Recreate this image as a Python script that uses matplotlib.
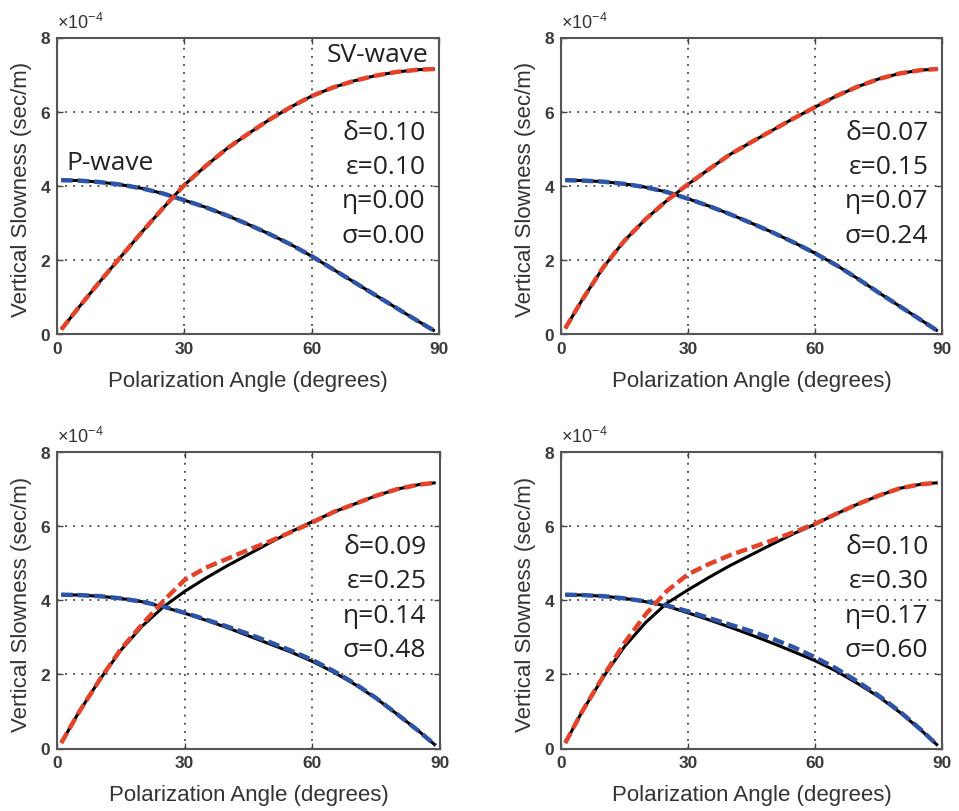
import matplotlib
matplotlib.use("Agg")
import matplotlib.pyplot as plt

plt.rcParams['font.family'] = ['Liberation Sans', 'DejaVu Sans']
plt.rcParams['mathtext.fontset'] = 'custom'
plt.rcParams['mathtext.rm'] = 'Liberation Sans'

# polarization angle (degrees)
angles = [1, 5, 10, 15, 20, 25, 30, 35, 40, 45, 50, 55, 60, 65, 70, 75, 80, 85, 89]

# panel 1 (delta=0.10, eps=0.10)
p1_p_exact = [4.15, 4.14, 4.10, 4.03, 3.93, 3.79, 3.61, 3.42, 3.20, 2.96, 2.70, 2.42, 2.10, 1.75, 1.40, 1.05, 0.70, 0.35, 0.08]
p1_p_approx = [4.15, 4.14, 4.10, 4.03, 3.93, 3.79, 3.61, 3.42, 3.20, 2.96, 2.70, 2.42, 2.10, 1.75, 1.40, 1.05, 0.70, 0.35, 0.08]
p1_sv_exact = [0.12, 0.70, 1.40, 2.08, 2.75, 3.40, 4.02, 4.53, 5.00, 5.40, 5.78, 6.12, 6.42, 6.65, 6.83, 6.97, 7.07, 7.13, 7.15]
p1_sv_approx = [0.12, 0.70, 1.40, 2.08, 2.75, 3.40, 4.02, 4.53, 5.00, 5.40, 5.78, 6.12, 6.42, 6.65, 6.83, 6.97, 7.07, 7.13, 7.15]

# panel 2 (delta=0.07, eps=0.15)
p2_p_exact = [4.15, 4.14, 4.11, 4.05, 3.96, 3.83, 3.65, 3.45, 3.23, 2.99, 2.74, 2.47, 2.18, 1.86, 1.50, 1.12, 0.75, 0.38, 0.08]
p2_p_approx = [4.15, 4.14, 4.11, 4.05, 3.96, 3.83, 3.65, 3.45, 3.23, 2.99, 2.74, 2.47, 2.18, 1.86, 1.50, 1.12, 0.75, 0.38, 0.08]
p2_sv_exact = [0.15, 0.92, 1.80, 2.52, 3.10, 3.60, 4.04, 4.45, 4.85, 5.18, 5.50, 5.82, 6.12, 6.42, 6.67, 6.88, 7.03, 7.12, 7.15]
p2_sv_approx = [0.15, 0.92, 1.80, 2.52, 3.10, 3.60, 4.04, 4.45, 4.85, 5.18, 5.50, 5.82, 6.12, 6.42, 6.67, 6.88, 7.03, 7.12, 7.15]

# panel 3 (delta=0.09, eps=0.25)
p3_p_exact = [4.15, 4.14, 4.11, 4.05, 3.96, 3.82, 3.65, 3.46, 3.26, 3.04, 2.82, 2.60, 2.35, 2.06, 1.73, 1.35, 0.92, 0.47, 0.08]
p3_p_approx = [4.15, 4.14, 4.11, 4.05, 3.96, 3.83, 3.66, 3.48, 3.29, 3.09, 2.87, 2.64, 2.39, 2.09, 1.75, 1.36, 0.92, 0.47, 0.08]
p3_sv_exact = [0.15, 0.95, 1.85, 2.65, 3.30, 3.82, 4.24, 4.60, 4.93, 5.24, 5.55, 5.85, 6.12, 6.38, 6.60, 6.82, 7.00, 7.12, 7.17]
p3_sv_approx = [0.15, 0.95, 1.85, 2.68, 3.35, 3.98, 4.55, 4.88, 5.12, 5.36, 5.59, 5.84, 6.10, 6.38, 6.60, 6.82, 7.00, 7.12, 7.17]

# panel 4 (delta=0.10, eps=0.30)
p4_p_exact = [4.15, 4.14, 4.11, 4.05, 3.96, 3.84, 3.66, 3.47, 3.27, 3.06, 2.84, 2.61, 2.37, 2.09, 1.76, 1.40, 0.98, 0.50, 0.08]
p4_p_approx = [4.15, 4.14, 4.11, 4.05, 3.97, 3.86, 3.70, 3.52, 3.34, 3.16, 2.96, 2.73, 2.46, 2.16, 1.81, 1.43, 1.00, 0.51, 0.08]
p4_sv_exact = [0.15, 1.00, 1.93, 2.75, 3.40, 3.92, 4.28, 4.62, 4.94, 5.23, 5.52, 5.80, 6.05, 6.33, 6.59, 6.82, 7.02, 7.13, 7.17]
p4_sv_approx = [0.15, 1.00, 1.95, 2.85, 3.62, 4.25, 4.70, 4.98, 5.22, 5.42, 5.62, 5.84, 6.06, 6.33, 6.59, 6.82, 7.02, 7.13, 7.17]

param_labels = [
    ["δ=0.10", "ε=0.10", "η=0.00", "σ=0.00"],
    ["δ=0.07", "ε=0.15", "η=0.07", "σ=0.24"],
    ["δ=0.09", "ε=0.25", "η=0.14", "σ=0.48"],
    ["δ=0.10", "ε=0.30", "η=0.17", "σ=0.60"],
]

x_ticks = [0, 30, 60, 90]
y_ticks = [0, 2, 4, 6, 8]
x_label = "Polarization Angle (degrees)"
y_label = "Vertical Slowness (sec/m)"

panels = [
    (p1_p_exact, p1_p_approx, p1_sv_exact, p1_sv_approx),
    (p2_p_exact, p2_p_approx, p2_sv_exact, p2_sv_approx),
    (p3_p_exact, p3_p_approx, p3_sv_exact, p3_sv_approx),
    (p4_p_exact, p4_p_approx, p4_sv_exact, p4_sv_approx),
]

W, H = 959, 812
fig = plt.figure(figsize=(W / 100, H / 100), dpi=100)
boxes = [
    (57, 38.5, 439, 335),
    (561, 38.5, 942, 335),
    (57, 453, 440, 749.5),
    (561, 453, 942, 749.5),
]

RED = '#e4432a'
BLUE = '#2d54a6'
ann_font = ['Open Sans', 'DejaVu Sans']

for i, (box, data) in enumerate(zip(boxes, panels)):
    l, t, r, b = box
    ax = fig.add_axes([l / W, 1 - b / H, (r - l) / W, (b - t) / H])
    pe, pa, se, sa = data
    ax.plot(angles, pe, color='black', lw=2.2, solid_capstyle='butt', zorder=3)
    ax.plot(angles, se, color='black', lw=2.2, solid_capstyle='butt', zorder=3)
    ax.plot(angles, pa, color=BLUE, lw=3.2, ls=(0, (2.6, 1.1)), zorder=4)
    ax.plot(angles, sa, color=RED, lw=3.2, ls=(0, (2.6, 1.1)), zorder=4)

    ax.set_xlim(0, 90)
    ax.set_ylim(0, 8)
    ax.set_xticks(x_ticks)
    ax.set_yticks(y_ticks)
    ax.grid(True, color='#444444', lw=1.3, ls=(0, (1, 3.5)))
    ax.tick_params(direction='in', length=4, width=1, top=True, right=True,
                   labelsize=12.5, labelcolor='#3a3a3a', color='#444444', pad=5)
    for lab in ax.get_xticklabels() + ax.get_yticklabels():
        lab.set_fontweight('bold')
    for s in ax.spines.values():
        s.set_color('#555555')
        s.set_linewidth(1.5)

    ax.set_xlabel(x_label, fontsize=16, color='#333333')
    ax.xaxis.set_label_coords(0.5, -0.12)
    ax.set_ylabel(y_label, fontsize=16, color='#333333')
    ax.yaxis.set_label_coords(-0.066, 0.49)

    ax.text(0.0, 1.02, '×10$^{-4}$', transform=ax.transAxes, fontsize=13,
            color='#333333', ha='left', va='bottom')

    for k, txt in enumerate(param_labels[i]):
        ax.text(86.8, [5.45, 4.52, 3.6, 2.67][k], txt, fontsize=19, family=ann_font,
                ha='right', va='center', color='#222222', zorder=5)

    if i == 0:
        ax.text(87.5, 7.55, 'SV-wave', fontsize=19, family=ann_font,
                ha='right', va='center', color='#222222', zorder=5)
        ax.text(2.3, 4.64, 'P-wave', fontsize=19, family=ann_font,
                ha='left', va='center', color='#222222', zorder=5)

fig.savefig('out.png', dpi=100)
